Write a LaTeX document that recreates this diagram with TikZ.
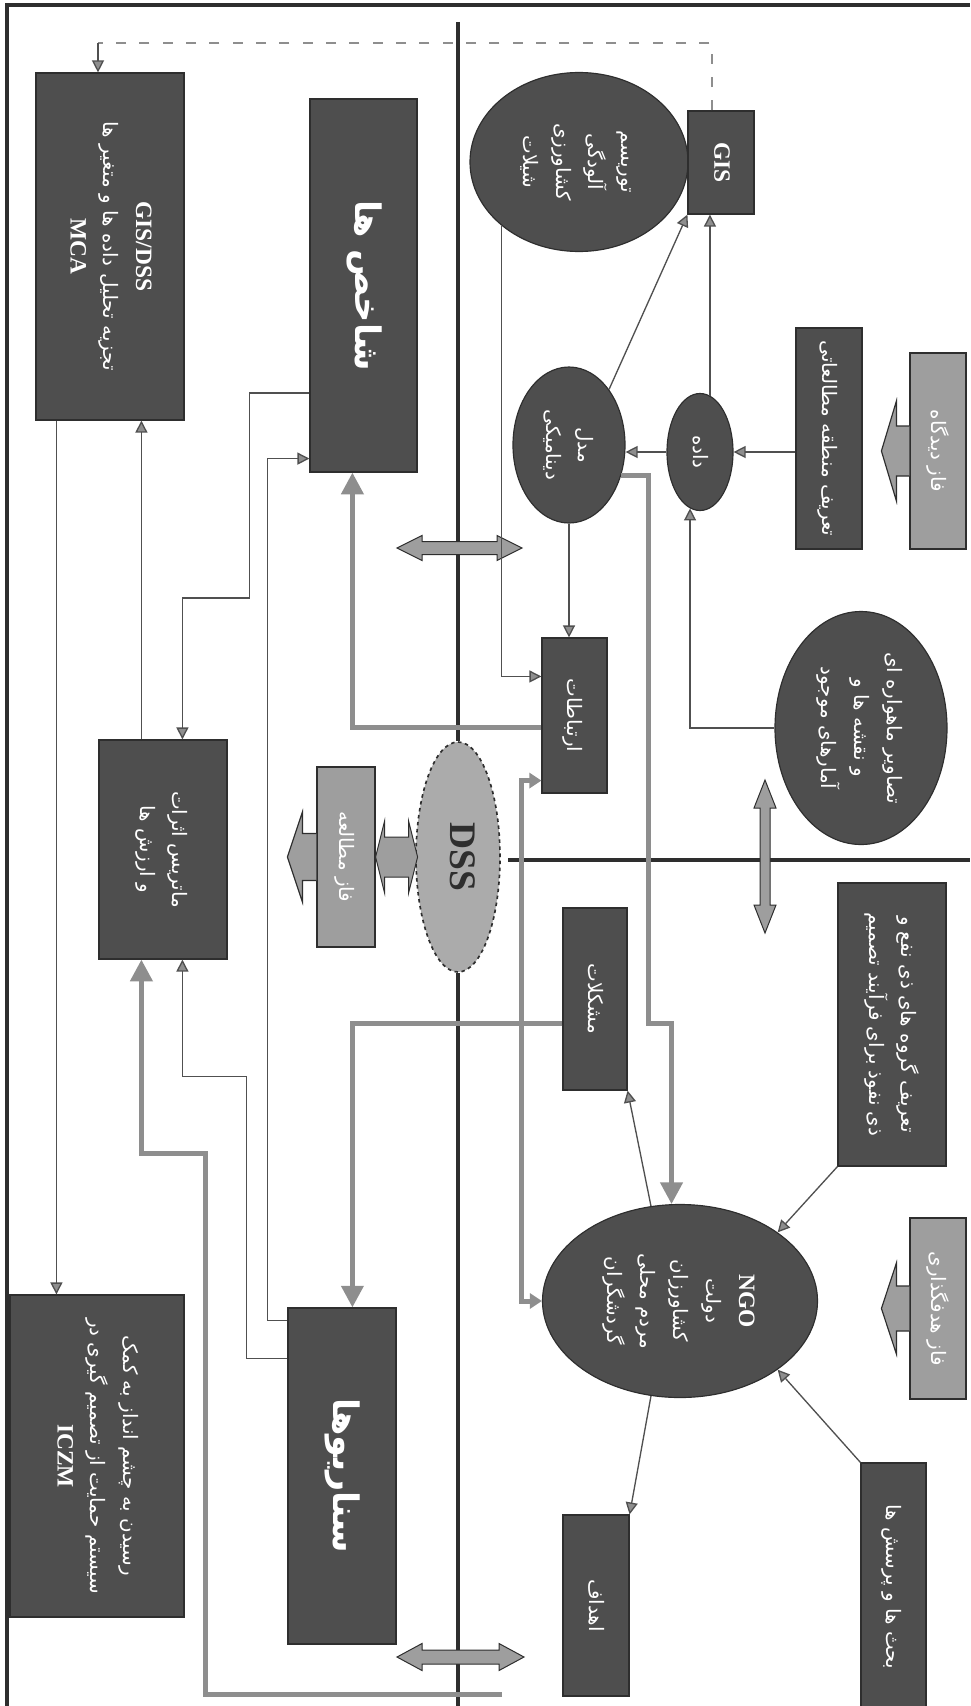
\documentclass[tikz,border=0pt]{standalone}
\usepackage{fontspec}
\usepackage{graphicx}
\setmainfont{Liberation Serif}
\newfontfamily\fafont[Script=Arabic]{DejaVu Sans}
\TeXXeTstate=1
\usetikzlibrary{positioning,arrows.meta,calc,shapes.geometric}
\definecolor{cBox}{HTML}{4E4E4E}
\definecolor{cEdge}{HTML}{2E2E2E}
\definecolor{cPhase}{HTML}{9E9E9E}
\definecolor{cDss}{HTML}{ABABAB}
\definecolor{cFlow}{HTML}{8E8E8E}
\definecolor{cLine}{HTML}{505050}
\newcommand\fa[1]{{\fafont\beginR #1\endR}}
\newcommand\bigfa[1]{{\fontsize{30}{36}\selectfont\fafont\bfseries\beginR #1\endR}}
\newcommand\lt[1]{{\fontsize{20}{24}\selectfont\bfseries #1}}
\newcommand\vt[1]{\rotatebox[origin=c]{-90}{\begin{tabular}{@{}c@{}}#1\end{tabular}}}
\tikzset{
  wh/.style 2 args={minimum width=#1*0.3mm,minimum height=#2*0.3mm},
  base/.style={draw=cEdge,line width=0.35mm,inner sep=0pt,text=white,font=\fontsize{17}{28}\selectfont},
  box/.style={base,fill=cBox},
  oval/.style={base,ellipse,fill=cBox},
  dssnode/.style={ellipse,draw=cEdge,dashed,line width=0.5mm,fill=cDss,inner sep=0pt,text=cEdge,font=\fontsize{14}{28}\selectfont},
  phase/.style={base,fill=cPhase},
  phasetip/.style={draw=cEdge,line width=0.35mm,fill=cPhase},
  dbl/.style={draw=cEdge,line width=0.3mm,fill=cPhase},
  arr/.style={draw=cLine,line width=0.4mm,-{Triangle[length=3.6mm,width=3.6mm,fill=cFlow]}},
  garr/.style={draw=cFlow,line width=1.5mm,-{Triangle[length=6.5mm,width=6.5mm]}},
  gbi/.style={draw=cFlow,line width=1.5mm,{Triangle[length=3.6mm,width=4.5mm]}-{Triangle[length=3.6mm,width=4.5mm]}},
  dline/.style={draw=cFlow,line width=0.6mm,dash pattern=on 3mm off 4mm},
  frame/.style={draw=cEdge,line width=1.1mm},
  divider/.style={draw=cEdge,line width=1.2mm}}
\begin{document}
\begin{tikzpicture}[x=0.3mm,y=-0.3mm]
\useasboundingbox (0,0) rectangle (970,1706);
\draw[frame] (7,1706) |- (970,5);
% centre of the frame
\node[dssnode,wh={84}{230}] (dss) at (458,857) {\vt{\fontsize{32}{36}\selectfont\bfseries DSS}};
\coordinate (vtop) at (458,22);
\coordinate (vbot) at (458,1706);
\coordinate (hleft) at (508,860);
\coordinate (hright) at (970,860);
\draw[divider] (vtop) -- (dss.north);
\draw[divider] (dss.south) -- (vbot);
\draw[divider] (hleft) -- (hright);
% left half
\node[box,wh={148}{347}] (gisdss) at (110,246.5) {\vt{\lt{GIS/DSS}\\ \fa{تجزیه تحلیل داده ها و متغیر ها}\\ \lt{MCA}}};
\node[box,wh={107}{373}] (indic) at (363.5,285.5) {\vt{\bigfa{شاخص ها}}};
\node[box,wh={128}{219}] (matrix) at (163,849.5) {\vt{\fa{ماتریس اثرات}\\ \fa{و ارزش ها}}};
\node[box,wh={174}{322}] (iczm) at (97,1456) {\vt{\fa{رسیدن به چشم انداز به کمک}\\ \fa{سیستم حمایت از تصمیم گیری در}\\ \lt{ICZM}}};
\node[box,wh={108}{336}] (scen) at (342,1476) {\vt{\bigfa{سناریوها}}};
\node[phase,wh={58}{180}] (phstudy) at (346,857) {\vt{\fa{فاز مطالعه}}};
% right half, top
\node[oval,wh={218}{179}] (themes) at (579,162) {\vt{\fa{توریسم}\\ \fa{آلودگی}\\ \fa{کشاورزی}\\ \fa{شیلات}}};
\node[box,wh={66}{103}] (gis) at (721,162.5) {\vt{\lt{GIS}}};
\node[oval,wh={112}{156}] (model) at (569,445) {\vt{\fa{مدل}\\ \fa{دینامیکی}}};
\node[oval,wh={66}{117}] (data) at (700,452) {\vt{\fa{داده}}};
\node[box,wh={66}{221}] (area) at (829,438.5) {\vt{\fa{تعریف منطقه مطالعاتی}}};
\node[phase,wh={56}{196}] (phview) at (938,451) {\vt{\fa{فاز دیدگاه}}};
\node[box,wh={65}{155}] (comm) at (574.5,715.5) {\vt{\fa{ارتباطات}}};
\node[oval,wh={172}{233}] (imgs) at (861,728) {\vt{\fa{تصاویر ماهواره ای}\\ \fa{و نقشه ها و}\\ \fa{آمارهای موجود}}};
% right half, bottom
\node[box,wh={64}{182}] (probl) at (595,999) {\vt{\fa{مشکلات}}};
\node[box,wh={108}{283}] (stake) at (892,1024.5) {\vt{\fa{تعریف گروه های ذی نفع و}\\ \fa{ذی نفوذ برای فرآیند تصمیم}}};
\node[oval,wh={275}{193}] (ngo) at (680,1301) {\vt{\lt{NGO}\\ \fa{دولت}\\ \fa{کشاورزان}\\ \fa{مردم محلی}\\ \fa{گردشگران}}};
\node[phase,wh={56}{181}] (phgoal) at (938,1308.5) {\vt{\fa{فاز هدفگذاری}}};
\node[box,wh={66}{181}] (goals) at (596,1605.5) {\vt{\fa{اهداف}}};
\node[box,wh={65}{248}] (debate) at (893.5,1587) {\vt{\fa{بحث ها و پرسش ها}}};
% phase pointers
\filldraw[phasetip] ($(phview.west)+(0,-25)$) -- ++(-13,0) -- ++(0,-25) -- ++(-15,50) -- ++(15,50) -- ++(0,-25) -- ++(13,0);
\filldraw[phasetip] ($(phstudy.west)+(0,-23.5)$) -- ++(-14,0) -- ++(0,-21.5) -- ++(-15,45) -- ++(15,45) -- ++(0,-21.5) -- ++(14,0);
\filldraw[phasetip] ($(phgoal.west)+(0,-22.5)$) -- ++(-13,0) -- ++(0,-23) -- ++(-15,45.5) -- ++(15,45.5) -- ++(0,-23) -- ++(13,0);
\filldraw[dbl] (phstudy.east) -- ++(9,-36) -- ++(0,16) -- ++(24,0) -- ++(0,-16) -- ++(9,36) -- ++(-9,36) -- ++(0,-16) -- ++(-24,0) -- ++(0,16) -- cycle;
% two-way links across the dividers
\filldraw[dbl] (397,548) -- ++(25,-12.5) -- ++(0,6) -- ++(75,0) -- ++(0,-6) -- ++(25,12.5) -- ++(-25,12.5) -- ++(0,-6) -- ++(-75,0) -- ++(0,6) -- cycle;
\filldraw[dbl] (765,780) -- ++(-11,28) -- ++(6,0) -- ++(0,97) -- ++(-6,0) -- ++(11,28) -- ++(11,-28) -- ++(-6,0) -- ++(0,-97) -- ++(6,0) -- cycle;
\filldraw[dbl] (397,1657) -- ++(25,-13.5) -- ++(0,6.5) -- ++(77,0) -- ++(0,-6.5) -- ++(25,13.5) -- ++(-25,13.5) -- ++(0,-6.5) -- ++(-77,0) -- ++(0,6.5) -- cycle;
% dashed feedback from GIS
\coordinate (dtop) at (0,43);
\coordinate (g0) at ([xshift=-2.7mm]gis.north);
\coordinate (g1) at ([xshift=-3.6mm]gisdss.north);
\draw[dline] (g0) -- (g0 |- dtop) -- (g1 |- dtop);
\draw[arr] (g1 |- dtop) -- (g1);
% study area flow
\draw[arr] (area.west |- data.east) -- (data.east);
\draw[arr] (data.west) -- (data.west -| model.east);
\draw[arr] (data.80) -- (data.80 |- gis.south);
\draw[arr] (model.north east) -- (gis.south west);
\draw[arr] (model.south) -- (model.south |- comm.north);
\draw[arr] (imgs.west) -| (data.-100);
\draw[arr] (themes.south west) |- ($(comm.north west)!0.25!(comm.south west)$);
% analysis column
\coordinate (g2) at ([xshift=6.3mm]gisdss.south west);
\draw[arr] (g2) -- (g2 |- iczm.north);
\coordinate (m1) at ([xshift=12.9mm]matrix.north west);
\draw[arr] (m1) -- (m1 |- gisdss.south);
\coordinate (i1) at ([yshift=-32.25mm]indic.west);
\coordinate (m2) at ([xshift=25.2mm]matrix.north west);
\draw[arr] (i1) -- ++(-60,0) -- ++(0,205) -| (m2);
\coordinate (s1) at ([yshift=-3.9mm]scen.north west);
\coordinate (i2) at ([yshift=4.2mm]indic.south west);
\draw[arr] (s1) -- ++(-20,0) |- (i2);
\coordinate (s2) at ([yshift=-15.3mm]scen.north west);
\coordinate (m3) at ([xshift=25.2mm]matrix.south west);
\draw[arr] (s2) -- ++(-41,0) -- ++(0,-282) -| (m3);
% grey flows
\coordinate (c1) at ([yshift=-3.5mm]comm.west);
\coordinate (i3) at ([xshift=12.9mm]indic.south west);
\draw[garr] (c1) -| (i3);
\coordinate (p1) at ([yshift=-7.2mm]probl.west);
\coordinate (s3) at ([xshift=19.5mm]scen.north west);
\draw[garr] (p1) -| (s3);
\draw[garr] (model.-30) -- ++(27,0) -- ++(0,548) -| (ngo.95);
\coordinate (c2) at ([yshift=3.9mm]comm.south west);
\draw[gbi] (c2) -- ++(-20,0) |- (ngo.west);
\coordinate (gend) at (502,1694);
\coordinate (m4) at ([xshift=12.9mm]matrix.south west);
\draw[garr] (gend) -- ++(-297,0) -- ++(0,-541) -| (m4);
% stakeholders
\draw[arr] (ngo.107) -- (probl.south east);
\draw[arr] (stake.south west) -- (ngo.north east);
\draw[arr] (ngo.-107) -- (goals.north east);
\draw[arr] (debate.north west) -- (ngo.south east);
\end{tikzpicture}
\end{document}
